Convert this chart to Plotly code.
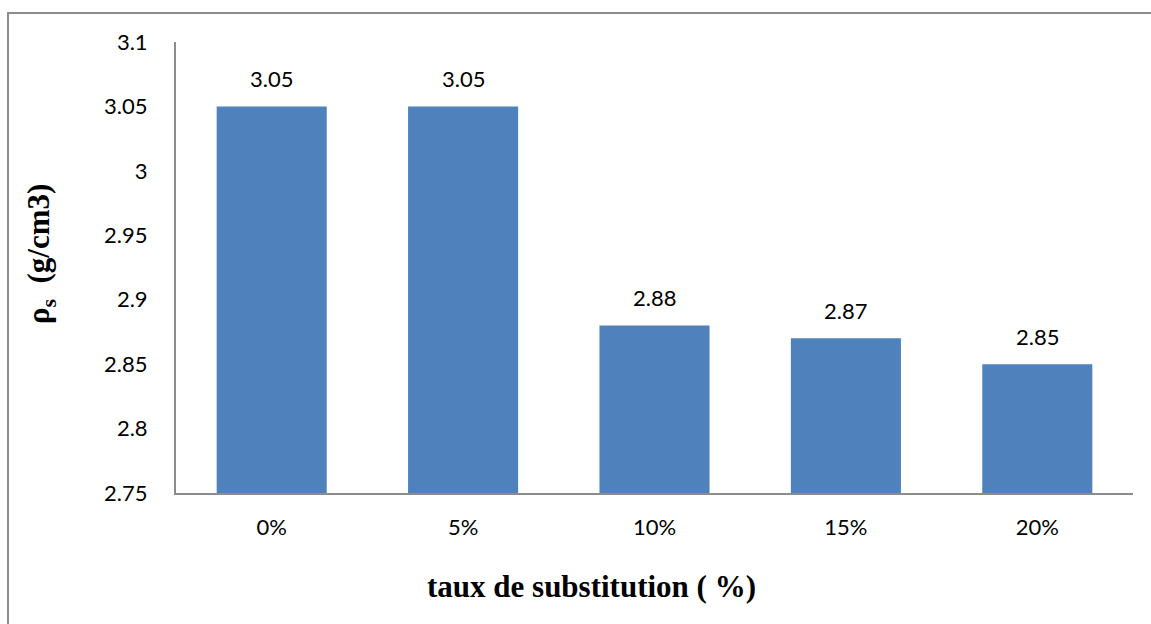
import plotly.graph_objects as go

# Substitution rate categories and measured specific density
categories = ["0%", "5%", "10%", "15%", "20%"]
density = [3.05, 3.05, 2.88, 2.87, 2.85]
tick_values = [2.75, 2.8, 2.85, 2.9, 2.95, 3.0, 3.05, 3.1]
tick_labels = ["2.75", "2.8", "2.85", "2.9", "2.95", "3", "3.05", "3.1"]

W, H = 1151, 624
L, R, T, B = 176, 18, 42, 131
plot_w = W - L - R
plot_h = H - T - B

SANS = "Lato, Open Sans, sans-serif"
SERIF = "Liberation Serif, Times New Roman, serif"

fig = go.Figure(
    go.Bar(
        x=categories,
        y=density,
        marker=dict(color="#4F81BD", line=dict(width=0)),
        width=0.575,
    )
)

# Value labels above each bar
for cat, val in zip(categories, density):
    fig.add_annotation(
        x=cat, y=val, xref="x", yref="y",
        text=f"{val:.2f}",
        showarrow=False,
        yanchor="bottom",
        yshift=12,
        font=dict(family=SANS, size=22, color="#000000"),
    )

fig.update_layout(
    width=W,
    height=H,
    margin=dict(l=L, r=R, t=T, b=B),
    paper_bgcolor="white",
    plot_bgcolor="white",
    showlegend=False,
    font=dict(family=SANS, size=22, color="#000000"),
    xaxis=dict(
        showgrid=False,
        showline=True,
        linecolor="#8C8C8C",
        linewidth=2,
        ticks="",
        tickfont=dict(size=22),
        ticklabelstandoff=14,
    ),
    yaxis=dict(
        range=[2.75, 3.1],
        tickvals=tick_values,
        ticktext=tick_labels,
        showgrid=False,
        showline=True,
        linecolor="#8C8C8C",
        linewidth=2,
        ticks="",
        tickfont=dict(size=22),
        ticklabelstandoff=22,
    ),
)

# Axis titles
fig.add_annotation(
    x=(591 - L) / plot_w, y=(H - B - 586) / plot_h,
    xref="paper", yref="paper",
    text="<b>taux de substitution ( %)</b>",
    showarrow=False,
    xanchor="center", yanchor="middle",
    font=dict(family=SERIF, size=31, color="#000000"),
)
fig.add_annotation(
    x=(41 - L) / plot_w, y=(H - B - 254) / plot_h,
    xref="paper", yref="paper",
    text="<b>ρ<sub>s</sub>  (g/cm3)</b>",
    textangle=-90,
    showarrow=False,
    xanchor="center", yanchor="middle",
    font=dict(family=SERIF, size=31, color="#000000"),
)

# Outer chart frame
fig.add_shape(
    type="rect",
    xref="paper", yref="paper",
    x0=(8 - L) / plot_w, x1=1.2,
    y0=-0.5, y1=(H - B - 13) / plot_h,
    line=dict(color="#8C8C8C", width=2),
    fillcolor="rgba(0,0,0,0)",
    layer="below",
)

fig.write_html("out.html")
